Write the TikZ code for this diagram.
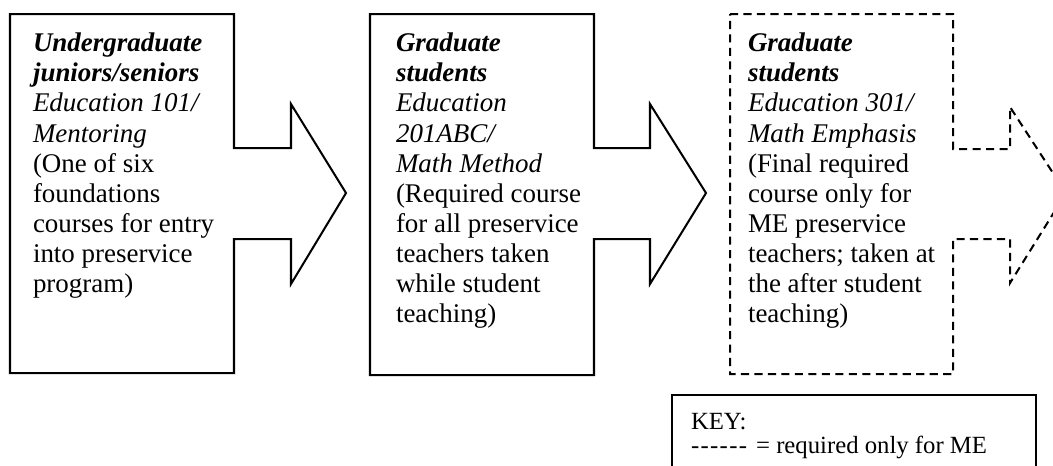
\documentclass[tikz,border=0pt]{standalone}
\usepackage{fontspec}
\setmainfont{Liberation Serif}

\begin{document}
\begin{tikzpicture}[x=0.445pt,y=-0.445pt,line width=0.9pt,line join=miter,
  txt/.style={anchor=north west,inner sep=0pt,align=left,
    font=\fontsize{12}{13.4}\selectfont},
  mekey/.style={dash pattern=on 3.6pt off 2.4pt}]
  \useasboundingbox (0,0) rectangle (1053,465);
  \clip (0,0) rectangle (1053,465);
  % course boxes, each with its arrow
  \draw (10,14) -- (234,14) -- (234,148) -- (291,148) -- (291,104)
    -- (346,193) -- (291,284) -- (291,239) -- (234,239) -- (234,373)
    -- (10,373) -- cycle;
  \draw (370,14) -- (594,14) -- (594,148) -- (650,148) -- (650,104)
    -- (706,193) -- (650,284) -- (650,239) -- (594,239) -- (594,375)
    -- (370,375) -- cycle;
  \draw[mekey] (730,14) -- (953,14) -- (953,149) -- (1010,149) -- (1010,107)
    -- (1066,193) -- (1010,283) -- (1010,239) -- (953,239) -- (953,374)
    -- (730,374) -- cycle;
  % course texts
  \node[txt] (ug) at (32,32)
    {\textbf{\textit{Undergraduate}}\\\textbf{\textit{juniors/seniors}}\\
     \textit{Education 101/}\\\textit{Mentoring}\\
     (One of six\\foundations\\courses for entry\\into preservice\\program)};
  \node[txt] (gradA) at (395,32)
    {\textbf{\textit{Graduate}}\\\textbf{\textit{students}}\\
     \textit{Education}\\\textit{201ABC/}\\\textit{Math Method}\\
     (Required course\\for all preservice\\teachers taken\\while student\\teaching)};
  \node[txt] (gradB) at (747,32)
    {\textbf{\textit{Graduate}}\\\textbf{\textit{students}}\\
     \textit{Education 301/}\\\textit{Math Emphasis}\\
     (Final required\\course only for\\ME preservice\\teachers; taken at\\the after student\\teaching)};
  % key
  \draw (672,520) -- (672,395) -- (1036,395) -- (1036,520);
  \node[txt,font=\fontsize{11}{10.7}\selectfont] (key) at (690,412)
    {KEY:\\-\kern.6pt-\kern.6pt-\kern.6pt-\kern.6pt-\kern.6pt-\hspace{4pt}= required only for ME};
\end{tikzpicture}
\end{document}
